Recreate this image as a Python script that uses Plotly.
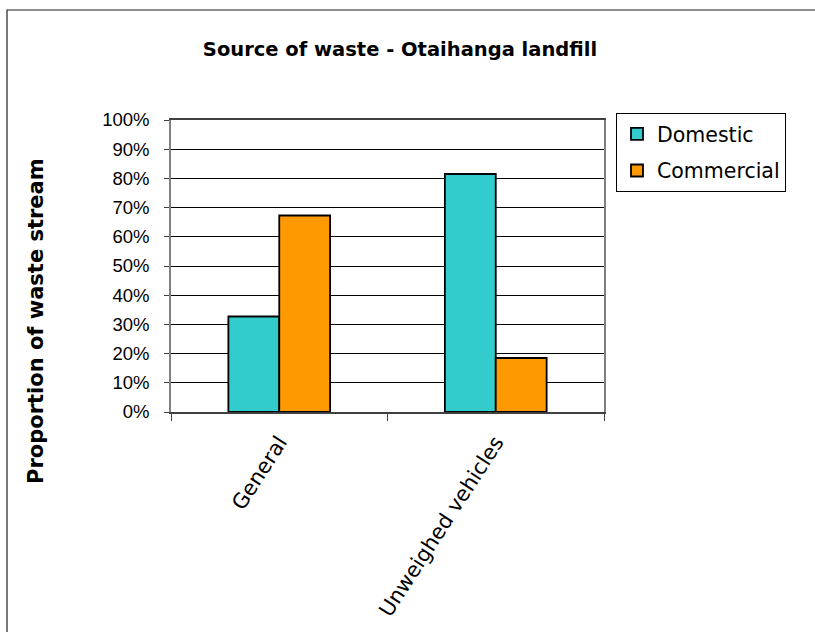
import plotly.graph_objects as go

categories = ["General", "Unweighed vehicles"]
domestic = [0.327, 0.815]
commercial = [0.673, 0.185]
series_names = ["Domestic", "Commercial"]
colors = ["#33CCCC", "#FF9900"]
title_text = "Source of waste - Otaihanga landfill"
y_title = "Proportion of waste stream"

W, H = 815, 632
L, R, T, B = 171, 211, 120, 220
pw, ph = W - L - R, H - T - B

fig = go.Figure()
for i, (name, vals) in enumerate(zip(series_names, [domestic, commercial])):
    fig.add_trace(go.Bar(
        x=categories, y=vals, name=name, legendgroup=name,
        marker=dict(color=colors[i], line=dict(color="black", width=1.8)),
    ))

font = "DejaVu Sans, Arial, sans-serif"
arial = "Liberation Sans, Arial, sans-serif"
fig.update_layout(
    width=W, height=H,
    margin=dict(l=L, r=R, t=T, b=B, autoexpand=False),
    paper_bgcolor="white", plot_bgcolor="white",
    barmode="group", bargap=0.53, bargroupgap=0,
    font=dict(family=font, color="black"),
    title=dict(text="<b>" + title_text + "</b>", x=400 / W, xanchor="center",
               y=1 - 49 / H, yanchor="middle", font=dict(size=19.5, family=font)),
    legend=dict(x=(616 - L) / pw, y=(H - B - 113) / ph, xanchor="left", yanchor="top",
                bordercolor="black", borderwidth=1, bgcolor="white",
                font=dict(size=20.5, family=font), traceorder="grouped", tracegroupgap=7,
                itemwidth=30),
    showlegend=True,
)
fig.update_yaxes(range=[0, 1], dtick=0.1, tickformat=".0%", showgrid=True,
                 gridcolor="black", gridwidth=1, showline=True, linecolor="#808080",
                 linewidth=1.5, mirror=True, ticks="outside", ticklen=5, tickcolor="#404040",
                 tickfont=dict(size=18.5, family=arial), ticklabelstandoff=11,
                 zeroline=False, fixedrange=True)
fig.update_xaxes(showline=True, linecolor="#404040", linewidth=1.5, mirror=True,
                 ticks="outside", tickson="boundaries", ticklen=7, tickcolor="#404040",
                 tickangle=-57, tickfont=dict(size=21, family=font), ticklabelstandoff=8,
                 fixedrange=True)

fig.add_annotation(text="<b>" + y_title + "</b>", xref="paper", yref="paper",
                   x=(36 - L) / pw, y=(H - B - 321) / ph, textangle=-90,
                   xanchor="center", yanchor="middle", showarrow=False,
                   font=dict(size=21, family=font))

fig.add_shape(type="rect", xref="paper", yref="paper",
              x0=(7 - L) / pw, x1=(W + 20 - L) / pw,
              y0=(H - B - (H + 20)) / ph, y1=(H - B - 10) / ph,
              line=dict(color="#202020", width=1.2), fillcolor="rgba(0,0,0,0)", layer="below")

fig.write_html("out.html")
